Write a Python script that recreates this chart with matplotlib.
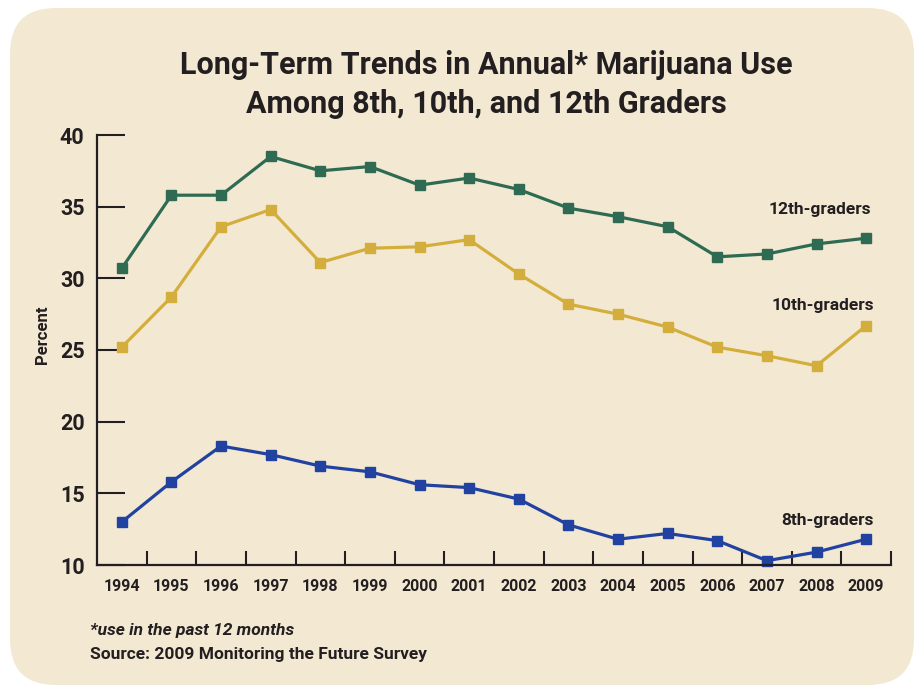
"""Long-term trends in annual marijuana use, MTF 2009 style chart."""

import matplotlib
matplotlib.use("Agg")
import matplotlib.pyplot as plt
from matplotlib.patches import FancyBboxPatch
from matplotlib.ticker import FixedLocator

years = list(range(1994, 2010))
grade12 = [30.7, 35.8, 35.8, 38.5, 37.5, 37.8, 36.5, 37.0, 36.2, 34.9,
           34.3, 33.6, 31.5, 31.7, 32.4, 32.8]
grade10 = [25.2, 28.7, 33.6, 34.8, 31.1, 32.1, 32.2, 32.7, 30.3, 28.2,
           27.5, 26.6, 25.2, 24.6, 23.9, 26.7]
grade8 = [13.0, 15.8, 18.3, 17.7, 16.9, 16.5, 15.6, 15.4, 14.6, 12.8,
          11.8, 12.2, 11.7, 10.3, 10.9, 11.8]
series_labels = ["12th-graders", "10th-graders", "8th-graders"]
y_ticks = [10, 15, 20, 25, 30, 35, 40]

INK = "#231F20"
BG = "#F3E9D3"
COLORS = ["#2E6B52", "#D4AE3C", "#2142A0"]

plt.rcParams["font.family"] = ["Roboto", "DejaVu Sans"]
plt.rcParams["font.weight"] = "bold"

fig = plt.figure(figsize=(9.15, 6.85), dpi=100)
fig.patch.set_facecolor("white")

# Rounded cream panel, kept behind everything
panel = FancyBboxPatch((10 / 915, 0.0), 904 / 915, 677 / 685,
                       boxstyle="round,pad=0,rounding_size=0.05",
                       transform=fig.transFigure, facecolor=BG,
                       edgecolor="none", mutation_aspect=915 / 685,
                       zorder=-10)
fig.patches.append(panel)

fig.text(0.532, 0.905, "Long-Term Trends in Annual* Marijuana Use",
         ha="center", va="center", fontsize=22, fontweight="bold", color=INK)
fig.text(0.532, 0.848, "Among 8th, 10th, and 12th Graders",
         ha="center", va="center", fontsize=22, fontweight="bold", color=INK)

ax = fig.add_axes([97 / 915, 120 / 685, 794 / 915, 430 / 685])
ax.set_facecolor("none")
ax.set_zorder(1)

for vals, color in zip([grade12, grade10, grade8], COLORS):
    ax.plot(years, vals, color=color, linewidth=2.3, marker="s",
            markersize=7.5, markeredgecolor=color, clip_on=False)

label_pos = [(2009.1, 34.8), (2009.15, 28.1), (2009.15, 13.1)]
for text, (x, y) in zip(series_labels, label_pos):
    ax.text(x, y, text, ha="right", va="center", fontsize=12.5,
            fontweight="bold", color=INK)

ax.set_xlim(1993.5, 2009.5)
ax.set_ylim(10, 40)
ax.spines["top"].set_visible(False)
ax.spines["right"].set_visible(False)
for side in ["left", "bottom"]:
    ax.spines[side].set_color(INK)
    ax.spines[side].set_linewidth(1.6)

ax.set_yticks(y_ticks)
ax.set_yticklabels([str(t) for t in y_ticks], fontsize=15.5,
                   fontweight="bold", color=INK)
ax.tick_params(axis="y", direction="in", length=20, width=1.5,
               color=INK, pad=9)

ax.set_xticks(years)
ax.set_xticklabels([str(y) for y in years], fontsize=11.5,
                   fontweight="bold", color=INK)
ax.tick_params(axis="x", which="major", length=0, pad=10)
ax.xaxis.set_minor_locator(FixedLocator([y + 0.5 for y in years]))
ax.tick_params(axis="x", which="minor", direction="in", length=10,
               width=1.5, color=INK)

fig.text(42 / 915, 1 - 335 / 685, "Percent", rotation=90, ha="center",
         va="center", fontsize=12, fontweight="bold", color=INK)

fig.text(90 / 915, 1 - 631 / 685, "*use in the past 12 months",
         ha="left", va="center", fontsize=12.5, fontweight="bold",
         style="italic", color=INK)
fig.text(90 / 915, 1 - 654 / 685, "Source: 2009 Monitoring the Future Survey",
         ha="left", va="center", fontsize=12.5, fontweight="bold", color=INK)

fig.savefig("out.png", dpi=100)
